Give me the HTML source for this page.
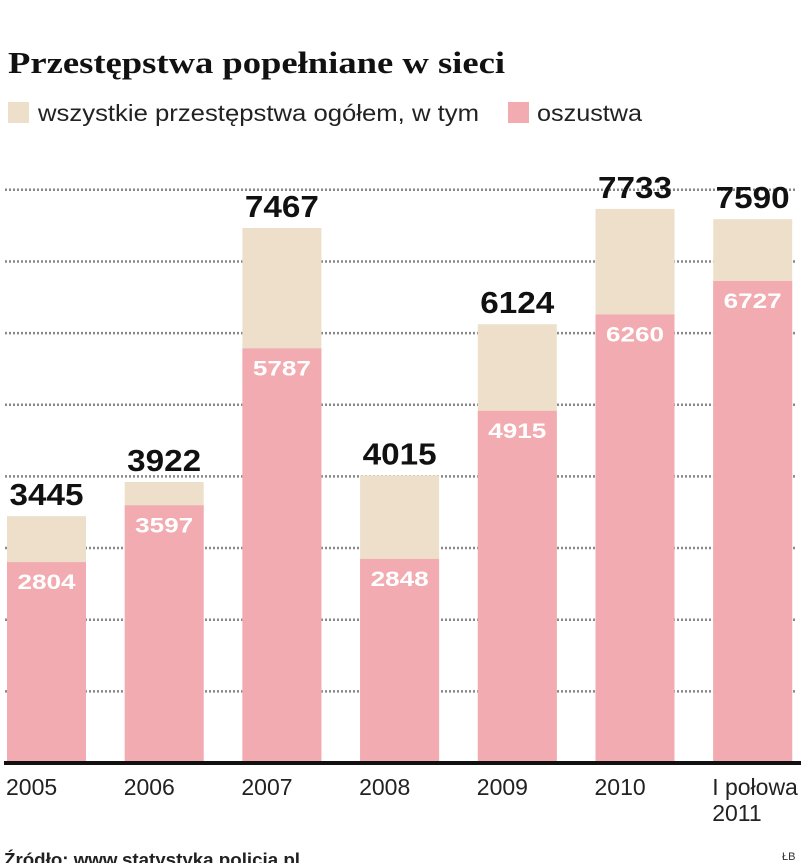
<!DOCTYPE html>
<html><head><meta charset="utf-8"><style>
body{margin:0;background:#fff;width:805px;height:863px;overflow:hidden;font-family:"Liberation Sans",sans-serif}
</style></head><body>
<svg width="805" height="863">
<text x="8" y="73" font-family="Liberation Serif,serif" font-weight="bold" font-size="31" textLength="497" lengthAdjust="spacingAndGlyphs" fill="#111">Przestępstwa popełniane w sieci</text>
<rect x="8" y="102" width="21" height="21" fill="#eedfcb"/>
<text x="38" y="121" font-size="23" textLength="441" lengthAdjust="spacingAndGlyphs" fill="#222">wszystkie przestępstwa ogółem, w tym</text>
<rect x="508" y="102" width="21" height="21" fill="#f2abb0"/>
<text x="537" y="121" font-size="23" textLength="105" lengthAdjust="spacingAndGlyphs" fill="#222">oszustwa</text>
<g id="grid"></g><g id="bars"></g>
<line x1="4" y1="763" x2="801" y2="763" stroke="#111" stroke-width="4"/>
<text x="4" y="866" font-size="18" font-weight="bold" textLength="296" lengthAdjust="spacingAndGlyphs" fill="#222">Źródło: www.statystyka.policja.pl</text>
<text x="782" y="860" font-size="11" fill="#333">ŁB</text>
</svg>
<script>
const categories=["2005","2006","2007","2008","2009","2010","I połowa|2011"];
const totals=[3445,3922,7467,4015,6124,7733,7590];
const fraud=[2804,3597,5787,2848,4915,6260,6727];
const gridTicks=[1000,2000,3000,4000,5000,6000,7000,8000];
const NS="http://www.w3.org/2000/svg";
const base=763, k=0.07165;
const y=v=>base-v*k;
const x=i=>7+i*117.7;
const bw=79;
function mk(t,a,p){const e=document.createElementNS(NS,t);for(const n in a)e.setAttribute(n,a[n]);p.appendChild(e);return e;}
const g=document.getElementById('grid'),b=document.getElementById('bars');
gridTicks.forEach(v=>{
 const l=mk('line',{x1:5,x2:797,y1:y(v),y2:y(v),stroke:'#888','stroke-width':2.5,'stroke-dasharray':'2 2'},g);
 
 
});
categories.forEach((c,i)=>{
 const r1=mk('rect',{x:x(i),y:y(totals[i]),width:bw,height:totals[i]*k,fill:'#eedfcb'},b);
 
 
 const r2=mk('rect',{x:x(i),y:y(fraud[i]),width:bw,height:fraud[i]*k,fill:'#f2abb0'},b);
 
 
 const t1=mk('text',{x:x(i)+bw/2,y:y(totals[i])-11,'text-anchor':'middle','font-size':31,'font-weight':'bold',fill:'#111',textLength:74,lengthAdjust:'spacingAndGlyphs'},b);
 t1.textContent=totals[i];
 
 
 const t2=mk('text',{x:x(i)+bw/2,y:y(fraud[i])+27,'text-anchor':'middle','font-size':21,'font-weight':'bold',fill:'#fff',textLength:58,lengthAdjust:'spacingAndGlyphs'},b);
 t2.textContent=fraud[i];
 
 
 const parts=c.split('|');
 parts.forEach((p,j)=>{
  const t=mk('text',{x:x(i)-1,y:795+j*26,'text-anchor':'start','font-size':23,fill:'#222'},b);
  t.textContent=p;
  
  
 });
});
</script>
</body></html>
